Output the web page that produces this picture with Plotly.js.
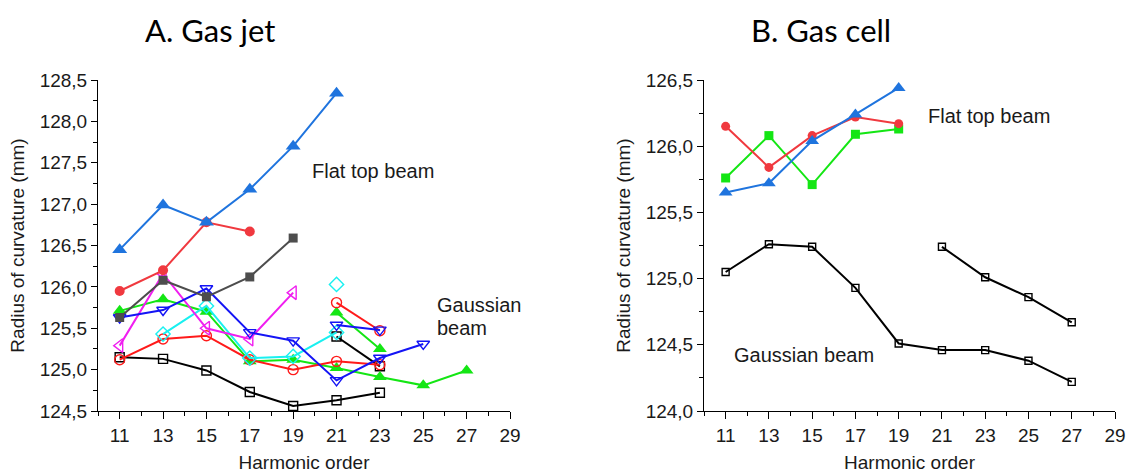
<!DOCTYPE html>
<html>
<head>
<meta charset="utf-8">
<script src="https://cdn.plot.ly/plotly-3.0.1.min.js"></script>
<style>html,body{margin:0;padding:0;background:#fff;}#chart{width:1128px;height:474px;}</style>
</head>
<body>
<div id="chart"></div>
<script>
// ---- Data (harmonic orders and radius of curvature in mm) ----
const xTickVals = [11, 13, 15, 17, 19, 21, 23, 25, 27, 29];

// A. Gas jet
const jetFlatBlueX = [11, 13, 15, 17, 19, 21];
const jetFlatBlueY = [126.45, 126.99, 126.78, 127.18, 127.70, 128.34];
const jetFlatRedX = [11, 13, 15, 17];
const jetFlatRedY = [125.95, 126.20, 126.78, 126.67];
const jetGrayX = [11, 13, 15, 17, 19];
const jetGrayY = [125.63, 126.08, 125.88, 126.12, 126.59];
const jetGreenX = [11, 13, 15, 17, 19, 21, 23, 25, 27];
const jetGreenY = [125.71, 125.85, 125.70, 125.10, 125.12, 125.02, 124.91, 124.81, 124.99];
const jetGreen2X = [21, 23];
const jetGreen2Y = [125.69, 125.25];
const jetCyanX = [13, 15, 17, 19, 21];
const jetCyanY = [125.43, 125.77, 125.14, 125.16, 125.45];
const jetCyan2X = [21];
const jetCyan2Y = [126.03];
const jetRedOpenX = [11, 13, 15, 17, 19, 21, 23];
const jetRedOpenY = [125.12, 125.37, 125.41, 125.12, 125.00, 125.10, 125.06];
const jetRedOpen2X = [21, 23];
const jetRedOpen2Y = [125.81, 125.47];
const jetBlueOpenX = [11, 13, 15, 17, 19, 21, 23, 25];
const jetBlueOpenY = [125.63, 125.72, 125.98, 125.45, 125.35, 124.87, 125.14, 125.31];
const jetBlueOpen2X = [21, 23];
const jetBlueOpen2Y = [125.54, 125.48];
const jetMagentaX = [11, 13, 15, 17, 19];
const jetMagentaY = [125.29, 126.16, 125.50, 125.37, 125.93];
const jetBlackX = [11, 13, 15, 17, 19, 21, 23];
const jetBlackY = [125.15, 125.13, 124.99, 124.73, 124.56, 124.63, 124.72];
const jetBlack2X = [21, 23];
const jetBlack2Y = [125.40, 125.04];

// B. Gas cell
const cellFlatX = [11, 13, 15, 17, 19];
const cellRedY = [126.15, 125.84, 126.08, 126.22, 126.17];
const cellGreenY = [125.76, 126.08, 125.71, 126.09, 126.13];
const cellBlueY = [125.65, 125.72, 126.04, 126.24, 126.44];
const cellBlackX = [11, 13, 15, 17, 19, 21, 23, 25, 27];
const cellBlackY = [125.05, 125.26, 125.24, 124.93, 124.51, 124.46, 124.46, 124.38, 124.22];
const cellBlack2X = [21, 23, 25, 27];
const cellBlack2Y = [125.24, 125.01, 124.86, 124.67];

// ---- Styles ----
const C = {
  blueF: '#1f74de', redF: '#f0393f', gray: '#4d4d4d', green: '#14e614',
  cyan: '#19f0f0', redO: '#ff1a1a', blueO: '#1414f5', magenta: '#f01ef0', black: '#000000'
};

function tr(x, y, color, symbol, size, xa, ya, open) {
  return {
    type: 'scatter', mode: 'lines+markers', x: x, y: y,
    xaxis: xa, yaxis: ya, showlegend: false, hoverinfo: 'x+y',
    line: {color: color, width: 2},
    marker: {color: color, symbol: symbol, size: size,
             line: {color: color, width: open ? 1.4 : 0}}
  };
}

const data = [
  tr(jetBlackX, jetBlackY, C.black, 'square-open', 9, 'x', 'y', true),
  tr(jetBlack2X, jetBlack2Y, C.black, 'square-open', 9, 'x', 'y', true),
  tr(jetGreenX, jetGreenY, C.green, 'triangle-up', 12, 'x', 'y'),
  tr(jetGreen2X, jetGreen2Y, C.green, 'triangle-up', 12, 'x', 'y'),
  tr(jetRedOpenX, jetRedOpenY, C.redO, 'circle-open', 10, 'x', 'y', true),
  tr(jetRedOpen2X, jetRedOpen2Y, C.redO, 'circle-open', 10, 'x', 'y', true),
  tr(jetCyanX, jetCyanY, C.cyan, 'diamond-open', 11, 'x', 'y', true),
  tr(jetCyan2X, jetCyan2Y, C.cyan, 'diamond-open', 11, 'x', 'y', true),
  tr(jetMagentaX, jetMagentaY, C.magenta, 'triangle-left-open', 12, 'x', 'y', true),
  tr(jetBlueOpenX, jetBlueOpenY, C.blueO, 'triangle-down-open', 11, 'x', 'y', true),
  tr(jetBlueOpen2X, jetBlueOpen2Y, C.blueO, 'triangle-down-open', 11, 'x', 'y', true),
  tr(jetGrayX, jetGrayY, C.gray, 'square', 9, 'x', 'y'),
  tr(jetFlatRedX, jetFlatRedY, C.redF, 'circle', 10, 'x', 'y'),
  tr(jetFlatBlueX, jetFlatBlueY, C.blueF, 'triangle-up', 13, 'x', 'y'),

  tr(cellBlackX, cellBlackY, C.black, 'square-open', 7, 'x2', 'y2', true),
  tr(cellBlack2X, cellBlack2Y, C.black, 'square-open', 7, 'x2', 'y2', true),
  tr(cellFlatX, cellGreenY, C.green, 'square', 9, 'x2', 'y2'),
  tr(cellFlatX, cellRedY, C.redF, 'circle', 9, 'x2', 'y2'),
  tr(cellFlatX, cellBlueY, C.blueF, 'triangle-up', 12, 'x2', 'y2')
];

const FAM = '"Liberation Sans", Arial, Helvetica, sans-serif';
const tickFont = {family: FAM, size: 19, color: '#1a1a1a'};
const titleFont = {family: FAM, size: 19, color: '#1a1a1a'};
const noteFont = {family: FAM, size: 20, color: '#1a1a1a'};

function xAxis(domain, anchor) {
  return {
    domain: domain, anchor: anchor, range: [10, 29], autorange: false,
    tickmode: 'array', tickvals: xTickVals, ticks: 'outside', ticklen: 7, tickwidth: 1,
    tickcolor: '#000', showline: true, linecolor: '#000', linewidth: 1,
    showgrid: false, zeroline: false, tickfont: tickFont,
    minor: {dtick: 1, tick0: 10, ticks: 'outside', ticklen: 4, tickcolor: '#000', tickwidth: 1, showgrid: false},
    title: {text: 'Harmonic order', font: titleFont, standoff: 10}
  };
}
function yAxis(domain, anchor, range, tick0) {
  return {
    domain: domain, anchor: anchor, range: range, autorange: false,
    tick0: tick0, dtick: 0.5, tickformat: '.1f', ticks: 'outside', ticklen: 6, tickwidth: 1,
    tickcolor: '#000', showline: true, linecolor: '#000', linewidth: 1,
    showgrid: false, zeroline: false, tickfont: tickFont,
    minor: {dtick: 0.25, tick0: tick0, ticks: 'outside', ticklen: 4, tickcolor: '#000', tickwidth: 1, showgrid: false},
    title: {text: 'Radius of curvature (mm)', font: titleFont, standoff: 10}
  };
}

const yDom = [1 - 411 / 474, 1 - 80 / 474];
const layout = {
  width: 1128, height: 474,
  margin: {l: 0, r: 0, t: 0, b: 0},
  paper_bgcolor: '#fff', plot_bgcolor: '#fff',
  separators: ', ',
  showlegend: false,
  xaxis: xAxis([98 / 1128, 510 / 1128], 'y'),
  yaxis: yAxis(yDom, 'x', [124.5, 128.5], 124.5),
  xaxis2: xAxis([704 / 1128, 1115 / 1128], 'y2'),
  yaxis2: yAxis(yDom, 'x2', [124.0, 126.5], 124.0),
  annotations: [
    {text: 'A. Gas jet', xref: 'paper', yref: 'paper', x: 210 / 1128, y: 1 - 30 / 474,
     xanchor: 'center', yanchor: 'middle', showarrow: false,
     font: {family: 'Lato, sans-serif', size: 31, color: '#000'}},
    {text: 'B. Gas cell', xref: 'paper', yref: 'paper', x: 821 / 1128, y: 1 - 30 / 474,
     xanchor: 'center', yanchor: 'middle', showarrow: false,
     font: {family: 'Lato, sans-serif', size: 31, color: '#000'}},
    {text: 'Flat top beam', xref: 'paper', yref: 'paper', x: 310 / 1128, y: 1 - 171 / 474,
     xanchor: 'left', yanchor: 'middle', showarrow: false, font: noteFont},
    {text: 'Gaussian', xref: 'paper', yref: 'paper', x: 435 / 1128, y: 1 - 305 / 474,
     xanchor: 'left', yanchor: 'middle', showarrow: false, font: noteFont},
    {text: 'beam', xref: 'paper', yref: 'paper', x: 435 / 1128, y: 1 - 328 / 474,
     xanchor: 'left', yanchor: 'middle', showarrow: false, font: noteFont},
    {text: 'Flat top beam', xref: 'paper', yref: 'paper', x: 926 / 1128, y: 1 - 116 / 474,
     xanchor: 'left', yanchor: 'middle', showarrow: false, font: noteFont},
    {text: 'Gaussian beam', xref: 'paper', yref: 'paper', x: 732 / 1128, y: 1 - 355 / 474,
     xanchor: 'left', yanchor: 'middle', showarrow: false, font: noteFont}
  ]
};

Plotly.newPlot('chart', data, layout, {displayModeBar: false, staticPlot: true});
</script>
</body>
</html>
